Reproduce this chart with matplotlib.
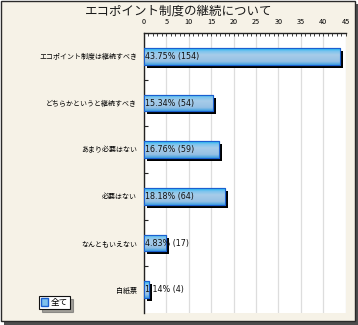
import matplotlib
matplotlib.use("Agg")
import matplotlib.pyplot as plt
import matplotlib.patheffects as pe
from matplotlib.patches import Rectangle, Patch
from matplotlib.colors import LinearSegmentedColormap
import numpy as np

plt.rcParams['font.family'] = ['Noto Sans CJK JP', 'DejaVu Sans']

title = "エコポイント制度の継続について"
categories = ["エコポイント制度は継続すべき", "どちらかというと継続すべき", "あまり必要はない",
              "必要はない", "なんともいえない", "白紙票"]
percents = [43.75, 15.34, 16.76, 18.18, 4.83, 1.14]
counts = [154, 54, 59, 64, 17, 4]
legend_label = "全て"
xticks = [0, 5, 10, 15, 20, 25, 30, 35, 40, 45]

W, H = 358, 325
fig = plt.figure(figsize=(W / 100, H / 100), dpi=100)
fig.patch.set_facecolor("white")

cream = "#F6F2E7"
# panel shadow and panel
fig.add_artist(Rectangle((4 / W, 0), 354 / W, 321 / H, transform=fig.transFigure,
                         facecolor="#4d4d4d", edgecolor="none", zorder=0))
fig.add_artist(Rectangle((0.5 / W, 4.5 / H), 354 / W, 320 / H, transform=fig.transFigure,
                         facecolor=cream, edgecolor="#2a2a2a", linewidth=1.0, zorder=0.1))

ax = fig.add_axes([144 / W, (H - 313) / H, (345.5 - 144) / W, (313 - 33) / H])
ax.set_facecolor("white")
ax.set_zorder(1)

n = len(categories)
y = np.arange(n)
h = 0.36
bars = ax.barh(y, percents, height=h, facecolor="#9EC6E6", edgecolor="#1a5fcf",
               linewidth=0.8, zorder=3)
for b in bars:
    b.set_path_effects([pe.SimplePatchShadow(offset=(2.2, -2.2), shadow_rgbFace="black", alpha=1.0),
                        pe.Normal()])

cmap = LinearSegmentedColormap.from_list("g", [(0, "#12B2F2"), (0.18, "#7CC4EE"), (0.4, "#A7CCE9"),
                                              (0.8, "#95C0E4"), (1.0, "#3C9FE2")])
grad = np.linspace(0, 1, 64).reshape(-1, 1)
for b, yi, v in zip(bars, y, percents):
    im = ax.imshow(grad, cmap=cmap, aspect="auto", extent=(0, v, yi + h / 2, yi - h / 2),
                   zorder=3.5, interpolation="bilinear")
    im.set_clip_path(b)
    ax.barh(yi, v, height=h, facecolor="none", edgecolor="#1a5fcf", linewidth=0.8, zorder=4)

for yi, p, c in zip(y, percents, counts):
    ax.text(0.25, yi, f"{p:.2f}% ({c})", va="center", ha="left", fontsize=5.8,
            family=["DejaVu Sans"], color="#111111", zorder=5)

ax.set_xlim(0, 45)
ax.set_ylim(n - 0.5, -0.5)
ax.xaxis.tick_top()
ax.set_xticks(xticks)
ax.set_xticks(np.arange(0, 46, 1), minor=True)
ax.tick_params(axis="x", which="both", direction="in", length=2.5, width=0.6, color="#222222",
               labelsize=5.2, pad=5, top=True, bottom=False)
ax.set_yticks(y)
ax.set_yticklabels(categories, fontsize=5.0)
ax.set_yticks(np.arange(0.5, n - 0.5, 1), minor=True)
ax.tick_params(axis="y", which="major", length=0, pad=5)
ax.tick_params(axis="y", which="minor", direction="in", length=3, width=0.8, color="#222222")
ax.grid(axis="x", which="major", color="#dddddd", linewidth=0.9, zorder=0)
ax.set_axisbelow(True)
for s in ["right", "bottom"]:
    ax.spines[s].set_visible(False)
for s in ["top", "left"]:
    ax.spines[s].set_color("#222222")
    ax.spines[s].set_linewidth(1.0)

fig.text(179 / W, 1 - 11 / H, title, ha="center", va="center", fontsize=9.0, color="#1a1a1a")

leg = fig.legend(handles=[Patch(facecolor="#7EC0EC", edgecolor="#1a5fcf", label=legend_label)],
                 loc="center left", bbox_to_anchor=(39 / W, 1 - 302.5 / H), fontsize=6.2,
                 frameon=True, fancybox=False, shadow=True, handlelength=0.9, handleheight=0.9,
                 handletextpad=0.3, borderpad=0.2, borderaxespad=0)
leg.get_frame().set_edgecolor("#111111")
leg.get_frame().set_linewidth(0.8)
leg.get_frame().set_facecolor("white")

fig.savefig("out.png", dpi=100, facecolor=fig.get_facecolor())
